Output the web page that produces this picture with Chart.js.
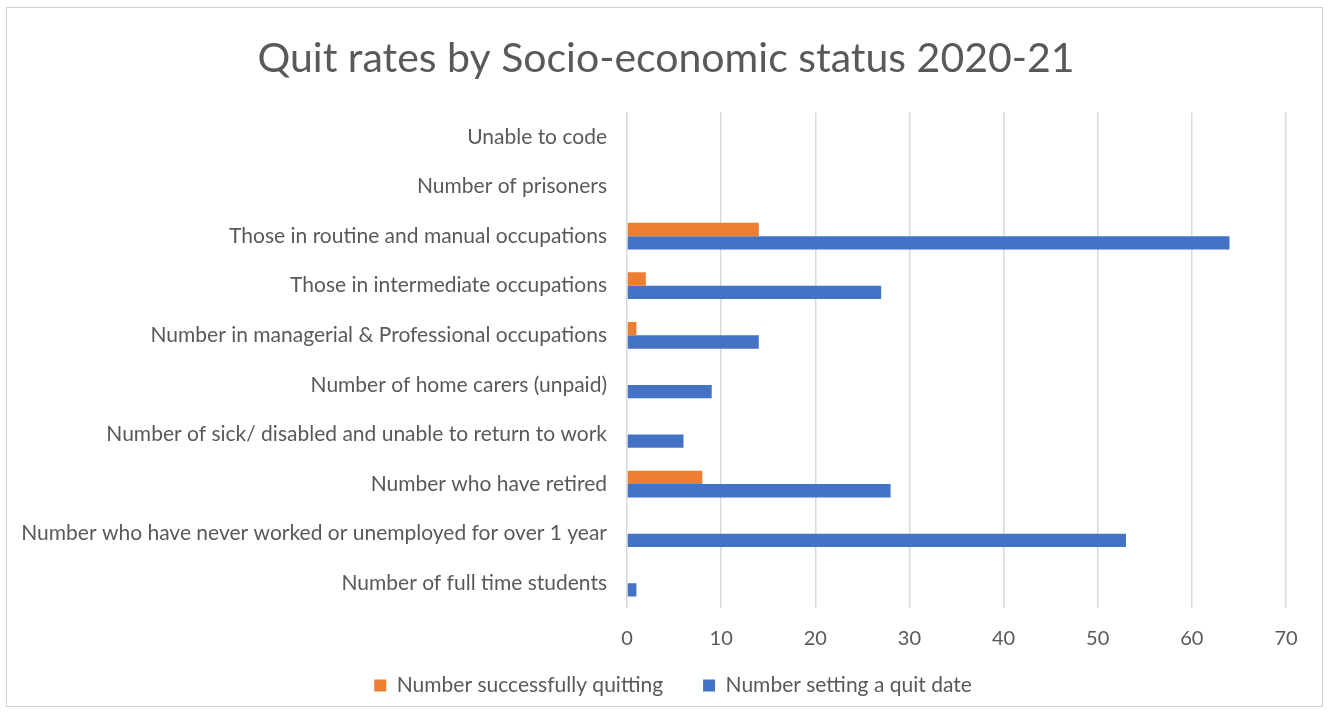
<!DOCTYPE html>
<html>
<head>
<meta charset="utf-8">
<script src="https://cdn.jsdelivr.net/npm/chart.js@4.4.0/dist/chart.umd.min.js"></script>
<style>
html,body{margin:0;padding:0;background:#fff;}
#wrap{position:absolute;left:0;top:0;width:1330px;height:715px;}
#frame{position:absolute;left:6px;top:7px;width:1315px;height:698px;border:1px solid #d0d0d0;pointer-events:none;}
</style>
</head>
<body>
<div id="wrap"><canvas id="c" width="1330" height="715"></canvas></div>
<div id="frame"></div>
<script>
const categories = [
  "Unable to code",
  "Number of prisoners",
  "Those in routine and manual occupations",
  "Those in intermediate occupations",
  "Number in managerial & Professional occupations",
  "Number of home carers (unpaid)",
  "Number of sick/ disabled and unable to return to work",
  "Number who have retired",
  "Number who have never worked or unemployed for over 1 year",
  "Number of full time students"
];
const quitting = [0, 0, 14, 2, 1, 0, 0, 8, 0, 0];
const settingDate = [0, 0, 64, 27, 14, 9, 6, 28, 53, 1];
const seriesNames = ["Number successfully quitting", "Number setting a quit date"];
const titleText = "Quit rates by Socio-economic status 2020-21";

const FONT = "Lato, 'Liberation Sans', sans-serif";
const GREY = "#595959";

// small layout tweaks: tighten legend box height and shift title/legend centres
const layoutTweak = {
  id: 'layoutTweak',
  afterInit(chart) {
    const lg = chart.legend;
    const f = lg.fit.bind(lg);
    lg.fit = function () { f(); this.height -= 34; };
  },
  afterLayout(chart) {
    const lg = chart.legend;
    lg.left += 25; lg.right += 25;
    lg.top = chart.height - 80; lg.bottom = chart.height;
    lg.height = lg.bottom - lg.top;
    const t = chart.titleBlock;
    t.left += 18; t.right += 18;
  }
};

new Chart(document.getElementById('c'), {
  type: 'bar',
  data: {
    labels: categories,
    datasets: [
      {label: seriesNames[0], data: quitting, backgroundColor: '#ED7D31', borderWidth: 0},
      {label: seriesNames[1], data: settingDate, backgroundColor: '#4472C4', borderWidth: 0}
    ]
  },
  plugins: [layoutTweak],
  options: {
    indexAxis: 'y',
    responsive: false,
    animation: false,
    devicePixelRatio: 1,
    categoryPercentage: 0.54,
    barPercentage: 1.0,
    layout: {padding: {left: 10, right: 44, top: 0, bottom: 8}},
    plugins: {
      title: {
        display: true,
        text: titleText,
        color: GREY,
        font: {family: FONT, size: 41, weight: 'normal'},
        padding: {top: 34, bottom: 29}
      },
      legend: {
        position: 'bottom',
        labels: {
          color: GREY,
          font: {family: FONT, size: 21},
          boxWidth: 12, boxHeight: 12,
          padding: 40
        }
      },
      tooltip: {enabled: false}
    },
    scales: {
      x: {
        min: 0, max: 70,
        ticks: {stepSize: 10, color: GREY, font: {family: FONT, size: 20}, padding: 19},
        grid: {color: '#d9d9d9', lineWidth: 1.5, drawTicks: false},
        border: {display: false}
      },
      y: {
        ticks: {color: GREY, font: {family: FONT, size: 21}, padding: 20},
        grid: {display: false, drawTicks: false},
        border: {display: false},
        afterFit: (s) => { s.width = 617; }
      }
    }
  }
});
</script>
</body>
</html>
